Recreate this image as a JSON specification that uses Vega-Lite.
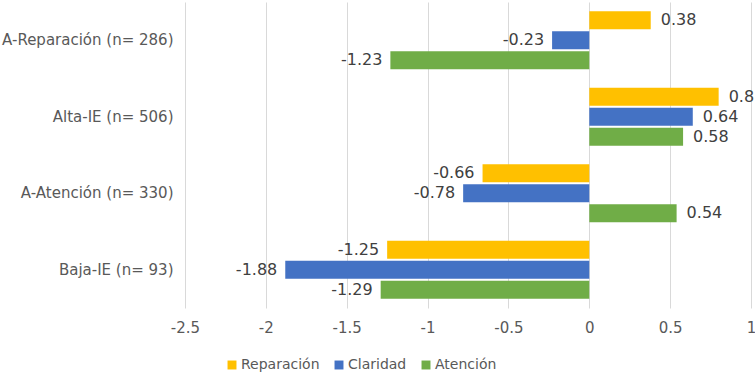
{
  "$schema": "https://vega.github.io/schema/vega-lite/v6.json",
  "width": 566,
  "height": 306,
  "autosize": {"type": "none"},
  "padding": {"left": 185, "top": 2, "right": 4, "bottom": 68},
  "background": "white",
  "config": {
    "view": {"stroke": null},
    "font": "DejaVu Sans",
    "axis": {"labelColor": "#595959", "labelFont": "DejaVu Sans", "labelFontSize": 15},
    "legend": {"labelColor": "#595959", "labelFontSize": 14}
  },
  "data": {
    "values": [
      {"grupo": "A-Reparación (n= 286)", "serie": "Reparación", "valor": 0.38},
      {"grupo": "A-Reparación (n= 286)", "serie": "Claridad", "valor": -0.23},
      {"grupo": "A-Reparación (n= 286)", "serie": "Atención", "valor": -1.23},
      {"grupo": "Alta-IE (n= 506)", "serie": "Reparación", "valor": 0.8},
      {"grupo": "Alta-IE (n= 506)", "serie": "Claridad", "valor": 0.64},
      {"grupo": "Alta-IE (n= 506)", "serie": "Atención", "valor": 0.58},
      {"grupo": "A-Atención (n= 330)", "serie": "Reparación", "valor": -0.66},
      {"grupo": "A-Atención (n= 330)", "serie": "Claridad", "valor": -0.78},
      {"grupo": "A-Atención (n= 330)", "serie": "Atención", "valor": 0.54},
      {"grupo": "Baja-IE (n= 93)", "serie": "Reparación", "valor": -1.25},
      {"grupo": "Baja-IE (n= 93)", "serie": "Claridad", "valor": -1.88},
      {"grupo": "Baja-IE (n= 93)", "serie": "Atención", "valor": -1.29}
    ]
  },
  "transform": [{"calculate": "toString(datum.valor)", "as": "etiqueta"}],
  "encoding": {
    "y": {
      "field": "grupo", "type": "nominal",
      "sort": ["A-Reparación (n= 286)", "Alta-IE (n= 506)", "A-Atención (n= 330)", "Baja-IE (n= 93)"],
      "scale": {"paddingInner": 0.24, "paddingOuter": 0.12},
      "axis": {"title": null, "ticks": false, "domain": false, "labelPadding": 12}
    },
    "yOffset": {
      "field": "serie", "type": "nominal",
      "sort": ["Reparación", "Claridad", "Atención"],
      "scale": {"paddingInner": 0.1, "paddingOuter": 0}
    },
    "x": {
      "field": "valor", "type": "quantitative",
      "scale": {"domain": [-2.5, 1], "nice": false, "zero": false},
      "axis": {"title": null, "values": [-2.5, -2, -1.5, -1, -0.5, 0, 0.5, 1], "labelExpr": "toString(datum.value)", "ticks": false, "domain": false, "grid": true, "gridColor": "#d9d9d9", "labelPadding": 12, "labelFlush": false}
    }
  },
  "layer": [
    {
      "mark": {"type": "bar"},
      "encoding": {
        "color": {
          "field": "serie", "type": "nominal",
          "sort": ["Reparación", "Claridad", "Atención"],
          "scale": {"domain": ["Reparación", "Claridad", "Atención"], "range": ["#FFC000", "#4472C4", "#70AD47"]},
          "legend": {"title": null, "orient": "none", "legendX": 40, "legendY": 356, "direction": "horizontal", "symbolType": "square", "symbolSize": 80, "symbolStrokeWidth": 0, "labelOffset": 2, "columnPadding": 12}
        }
      }
    },
    {
      "transform": [{"filter": "datum.valor >= 0"}],
      "mark": {"type": "text", "align": "left", "dx": 10, "fontSize": 16, "color": "#404040"},
      "encoding": {"text": {"field": "etiqueta", "type": "nominal"}}
    },
    {
      "transform": [{"filter": "datum.valor < 0"}],
      "mark": {"type": "text", "align": "right", "dx": -8, "fontSize": 16, "color": "#404040"},
      "encoding": {"text": {"field": "etiqueta", "type": "nominal"}}
    }
  ]
}
